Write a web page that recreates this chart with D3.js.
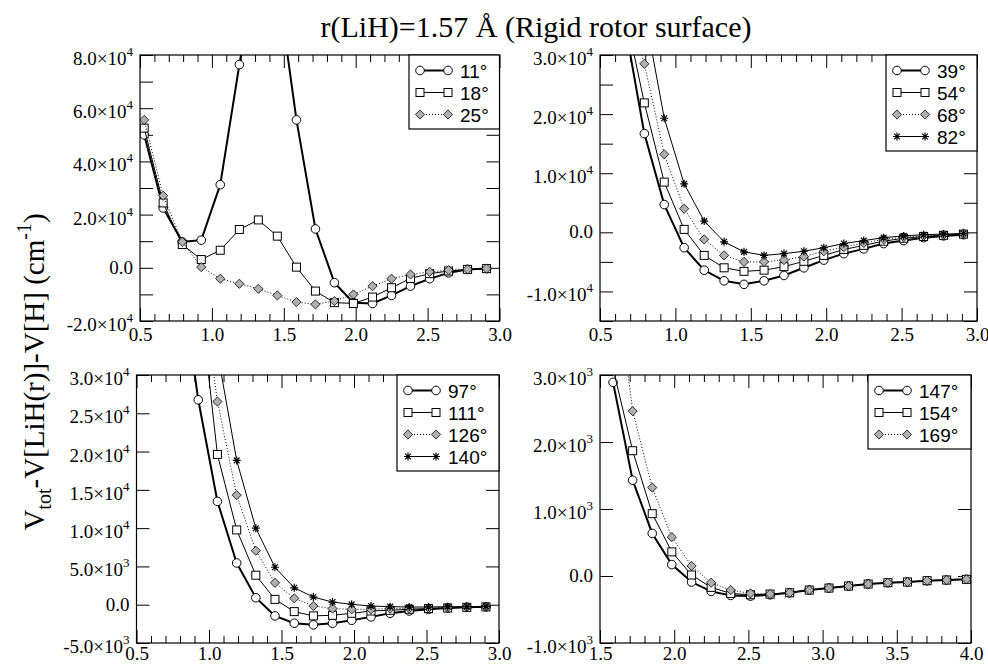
<!DOCTYPE html>
<html>
<head>
<meta charset="utf-8">
<script src="https://cdn.jsdelivr.net/npm/d3@7"></script>
<style>
  body { margin: 0; background: #fff; }
  svg { display: block; }
</style>
</head>
<body>
<div id="chart"></div>
<script>
// r grid (Angstrom) : 1.0 .. 5.5 bohr and 3.0 .. 7.5 bohr
const rA = [0.529, 0.661, 0.794, 0.926, 1.058, 1.191, 1.323, 1.455, 1.588, 1.720,
            1.852, 1.984, 2.117, 2.249, 2.381, 2.514, 2.646, 2.778, 2.910];
const rB = [1.588, 1.720, 1.852, 1.984, 2.117, 2.249, 2.381, 2.514, 2.646, 2.778,
            2.910, 3.043, 3.175, 3.307, 3.440, 3.572, 3.704, 3.836, 3.969];

// panel 1 (cm-1)
const v11 = [50000, 22500, 9750, 10400, 31250, 76400, 118000, 108000, 55600, 14600,
             -5600, -13100, -13400, -10400, -6900, -4100, -1900, -600, -300];
const v18 = [52500, 24400, 8750, 3100, 6600, 14400, 18000, 11900, 250, -8750,
             -13100, -13400, -11000, -7500, -4000, -2200, -1200, -600, -300];
const v25 = [55600, 27100, 9750, 250, -4100, -6000, -7900, -10400, -12900, -13750,
             -12500, -10000, -6900, -4100, -2500, -1500, -900, -600, -300];

// panel 2
const v39 = [80000, 35800, 16700, 4700, -2600, -6400, -8200, -8800, -8200, -7300,
             -6000, -4700, -3600, -2800, -1900, -1400, -900, -600, -400];
const v54 = [90000, 37900, 21900, 8500, 500, -3900, -6000, -6600, -6400, -5800,
             -4900, -3900, -2900, -2200, -1500, -1000, -700, -500, -300];
const v68 = [100000, 40000, 28500, 13200, 4000, -1200, -3900, -5000, -5000, -4700,
             -4100, -3200, -2500, -1800, -1200, -800, -600, -400, -200];
const v82 = [120000, 60000, 37600, 19300, 8200, 1900, -1600, -3300, -3900, -3600,
             -3200, -2600, -1900, -1400, -900, -600, -400, -300, -200];

// panel 3
const v97 = [150000, 90000, 44500, 26760, 13490, 5450, 910, -1460, -2420, -2630,
             -2420, -2030, -1590, -1120, -820, -600, -430, -340, -280];
const v111 = [170000, 100000, 60000, 42000, 19630, 9770, 3850, 700, -900, -1460,
              -1380, -1120, -820, -730, -600, -510, -430, -340, -280];
const v126 = [190000, 120000, 75000, 45000, 26540, 14310, 7050, 2860, 830, -170,
              -510, -600, -600, -510, -470, -430, -380, -300, -260];
const v140 = [210000, 140000, 90000, 55000, 33000, 18850, 9990, 4890, 2210, 1000,
              350, 50, -170, -250, -300, -300, -250, -250, -220];

// panel 4
const v147 = [2890, 1430, 635, 170, -90, -230, -290, -300, -280, -250,
              -210, -180, -150, -120, -100, -90, -70, -60, -50];
const v154 = [3100, 1870, 930, 360, 15, -170, -260, -280, -270, -250,
              -210, -180, -150, -120, -100, -90, -70, -60, -50];
const v169 = [4800, 2460, 1320, 580, 150, -100, -210, -260, -270, -250,
              -210, -180, -150, -120, -100, -90, -70, -60, -50];

// y tick labels per panel
const yLab1 = [-20000, 0, 20000, 40000, 60000, 80000];
const yLab2 = [-10000, 0, 10000, 20000, 30000];
const yLab3 = [-5000, 0, 5000, 10000, 15000, 20000, 25000, 30000];
const yLab4 = [-1000, 0, 1000, 2000, 3000];

const W = 988, H = 666;
const svg = d3.select('#chart').append('svg')
    .attr('width', W)
    .attr('height', H)
    .style('background', '#fff');

const serif = "Liberation Serif, Times New Roman, serif";
const sans = "Liberation Sans, Arial, sans-serif";

// symbol + line styles
const styles = {
  circle:  {width: 2, dash: null},
  square:  {width: 1, dash: null},
  diamond: {width: 1, dash: '1,2'},
  star:    {width: 1, dash: null}
};

function drawSymbol(g, kind, cx, cy) {
  if (kind === 'circle') {
    g.append('circle').attr('cx', cx).attr('cy', cy).attr('r', 4.3)
      .attr('fill', '#fff').attr('stroke', '#000').attr('stroke-width', 1);
  } else if (kind === 'square') {
    g.append('rect').attr('x', cx - 4).attr('y', cy - 4).attr('width', 8).attr('height', 8)
      .attr('fill', '#fff').attr('stroke', '#000').attr('stroke-width', 1);
  } else if (kind === 'diamond') {
    const s = 4.6;
    g.append('path').attr('d', `M${cx},${cy - s}L${cx + s},${cy}L${cx},${cy + s}L${cx - s},${cy}Z`)
      .attr('fill', '#b0b0b0').attr('stroke', '#000').attr('stroke-width', 0.8);
  } else {
    const s = 4, d = s * 0.72;
    g.append('path')
      .attr('d', `M${cx - s},${cy}L${cx + s},${cy}M${cx},${cy - s}L${cx},${cy + s}` +
                 `M${cx - d},${cy - d}L${cx + d},${cy + d}M${cx - d},${cy + d}L${cx + d},${cy - d}`)
      .attr('stroke', '#000').attr('stroke-width', 1.2).attr('fill', 'none');
  }
}

const panels = [
  {id: 'p1', left: 140, right: 499.5, top: 55, bottom: 321, xDom: [0.5, 3.0], yDom: [-20000, 80000],
   yStep: 10000, yLabels: yLab1, exp: 4, r: rA, pad: 7,
   series: [{name: '11°', v: v11, sym: 'circle'}, {name: '18°', v: v18, sym: 'square'},
            {name: '25°', v: v25, sym: 'diamond'}],
   legend: {x: 409, w: 90.5}},
  {id: 'p2', left: 600, right: 977, top: 55, bottom: 321, xDom: [0.5, 3.0], yDom: [-15000, 30000],
   yStep: 5000, yLabels: yLab2, exp: 4, r: rA, pad: 7,
   series: [{name: '39°', v: v39, sym: 'circle'}, {name: '54°', v: v54, sym: 'square'},
            {name: '68°', v: v68, sym: 'diamond'}, {name: '82°', v: v82, sym: 'star'}],
   legend: {x: 886, w: 91}},
  {id: 'p3', left: 136.5, right: 499, top: 375, bottom: 643, xDom: [0.5, 3.0], yDom: [-5000, 30000],
   yStep: 5000, yLabels: yLab3, exp: null, r: rA, pad: 4,
   series: [{name: '97°', v: v97, sym: 'circle'}, {name: '111°', v: v111, sym: 'square'},
            {name: '126°', v: v126, sym: 'diamond'}, {name: '140°', v: v140, sym: 'star'}],
   legend: {x: 397, w: 102}},
  {id: 'p4', left: 600, right: 971, top: 375, bottom: 643, xDom: [1.5, 4.0], yDom: [-1000, 3000],
   yStep: 1000, yLabels: yLab4, exp: 3, r: rB, pad: 4,
   series: [{name: '147°', v: v147, sym: 'circle'}, {name: '154°', v: v154, sym: 'square'},
            {name: '169°', v: v169, sym: 'diamond'}],
   legend: {x: 868, w: 103}}
];

panels.forEach(function(p) {
  const x = d3.scaleLinear().domain(p.xDom).range([p.left, p.right]);
  const y = d3.scaleLinear().domain(p.yDom).range([p.bottom, p.top]);
  const g = svg.append('g').attr('class', p.id);

  g.append('clipPath').attr('id', 'clip-' + p.id)
    .append('rect')
    .attr('x', p.left).attr('y', p.top)
    .attr('width', p.right - p.left).attr('height', p.bottom - p.top);

  const xMajor = d3.range(p.xDom[0], p.xDom[1] + 1e-6, 0.5);
  const xMinor = d3.range(p.xDom[0], p.xDom[1] + 1e-6, 0.1)
      .filter(v => Math.abs(v * 2 - Math.round(v * 2)) > 1e-6);
  const yTicks = d3.range(p.yDom[0], p.yDom[1] + 1, p.yStep);

  const axisStyle = sel => {
    sel.attr('color', '#000').attr('font-family', serif);
    sel.select('.domain').remove();
    sel.selectAll('line').attr('stroke-width', 1);
  };

  // x axes, ticks pointing inward
  g.append('g').attr('transform', 'translate(0,' + p.bottom + ')')
    .call(d3.axisBottom(x).tickValues(xMajor).tickSize(-13).tickPadding(p.pad).tickFormat(d3.format('.1f')))
    .call(axisStyle)
    .attr('font-size', 19)
    .selectAll('text').attr('dy', '0.71em');
  g.append('g').attr('transform', 'translate(0,' + p.bottom + ')')
    .call(d3.axisBottom(x).tickValues(xMinor).tickSize(-7).tickFormat(''))
    .call(axisStyle);
  g.append('g').attr('transform', 'translate(0,' + p.top + ')')
    .call(d3.axisTop(x).tickValues(xMajor).tickSize(-13).tickFormat(''))
    .call(axisStyle);
  g.append('g').attr('transform', 'translate(0,' + p.top + ')')
    .call(d3.axisTop(x).tickValues(xMinor).tickSize(-7).tickFormat(''))
    .call(axisStyle);

  // y axes
  g.append('g').attr('transform', 'translate(' + p.left + ',0)')
    .call(d3.axisLeft(y).tickValues(yTicks).tickSize(-13).tickFormat(''))
    .call(axisStyle);
  g.append('g').attr('transform', 'translate(' + p.right + ',0)')
    .call(d3.axisRight(y).tickValues(yTicks).tickSize(-13).tickFormat(''))
    .call(axisStyle);

  // y tick labels  a.b×10^n
  p.yLabels.forEach(function(v) {
    const t = g.append('text')
      .attr('x', p.left - 7)
      .attr('text-anchor', 'end')
      .attr('font-family', serif)
      .attr('font-size', 19)
      .attr('fill', '#000');
    if (v === 0) {
      t.attr('y', y(v) + 6).text('0.0');
    } else {
      const e = p.exp !== null ? p.exp : (Math.abs(v) >= 10000 ? 4 : 3);
      const m = (v / Math.pow(10, e)).toFixed(1);
      t.attr('y', y(v) + 10);
      t.append('tspan').text(m + '\u00d710');
      t.append('tspan').attr('dy', -9).attr('font-size', 13).text(e);
    }
  });

  // curves
  const plot = g.append('g').attr('clip-path', 'url(#clip-' + p.id + ')');
  const line = d3.line().x(d => x(d[0])).y(d => y(d[1]));
  p.series.forEach(function(s) {
    const pts = p.r.map((r, i) => [r, s.v[i]]);
    const st = styles[s.sym];
    plot.append('path')
      .datum(pts)
      .attr('d', line)
      .attr('fill', 'none')
      .attr('stroke', '#000')
      .attr('stroke-width', st.width)
      .attr('stroke-dasharray', st.dash);
    const sg = plot.append('g');
    pts.forEach(d => {
      const cy = y(d[1]);
      if (cy > p.top - 8 && cy < p.bottom + 8) drawSymbol(sg, s.sym, x(d[0]), cy);
    });
  });

  // frame
  g.append('rect')
    .attr('x', p.left).attr('y', p.top)
    .attr('width', p.right - p.left).attr('height', p.bottom - p.top)
    .attr('fill', 'none').attr('stroke', '#000').attr('stroke-width', 1.2);

  // legend
  const rowH = 22;
  const lg = g.append('g');
  lg.append('rect')
    .attr('x', p.legend.x).attr('y', p.top)
    .attr('width', p.legend.w).attr('height', rowH * p.series.length + 8)
    .attr('fill', '#fff').attr('stroke', '#000').attr('stroke-width', 1.2);
  p.series.forEach(function(s, i) {
    const cy = p.top + 15.5 + i * rowH;
    const x0 = p.legend.x + 11, x1 = p.legend.x + 39;
    const st = styles[s.sym];
    lg.append('line')
      .attr('x1', x0).attr('x2', x1).attr('y1', cy).attr('y2', cy)
      .attr('stroke', '#000').attr('stroke-width', st.width)
      .attr('stroke-dasharray', st.dash);
    drawSymbol(lg, s.sym, x0, cy);
    drawSymbol(lg, s.sym, x1, cy);
    lg.append('text')
      .attr('x', p.legend.x + 51).attr('y', cy + 7)
      .attr('font-family', sans).attr('font-size', 19)
      .attr('fill', '#000')
      .text(s.name);
  });
});

// title
svg.append('text')
  .attr('x', 536).attr('y', 37)
  .attr('text-anchor', 'middle')
  .attr('font-family', serif)
  .attr('font-size', 30)
  .attr('fill', '#000')
  .text('r(LiH)=1.57 \u00c5 (Rigid rotor surface)');

// y axis title
const yt = svg.append('text')
  .attr('transform', 'translate(44,372) rotate(-90)')
  .attr('text-anchor', 'middle')
  .attr('font-family', serif)
  .attr('font-size', 29)
  .attr('fill', '#000');
yt.append('tspan').text('V');
yt.append('tspan').attr('dy', 7).attr('font-size', 20).text('tot');
yt.append('tspan').attr('dy', -7).text('-V[LiH(r)]-V[H] (cm');
yt.append('tspan').attr('dy', -13).attr('font-size', 20).text('-1');
yt.append('tspan').attr('dy', 13).text(')');
</script>
</body>
</html>
